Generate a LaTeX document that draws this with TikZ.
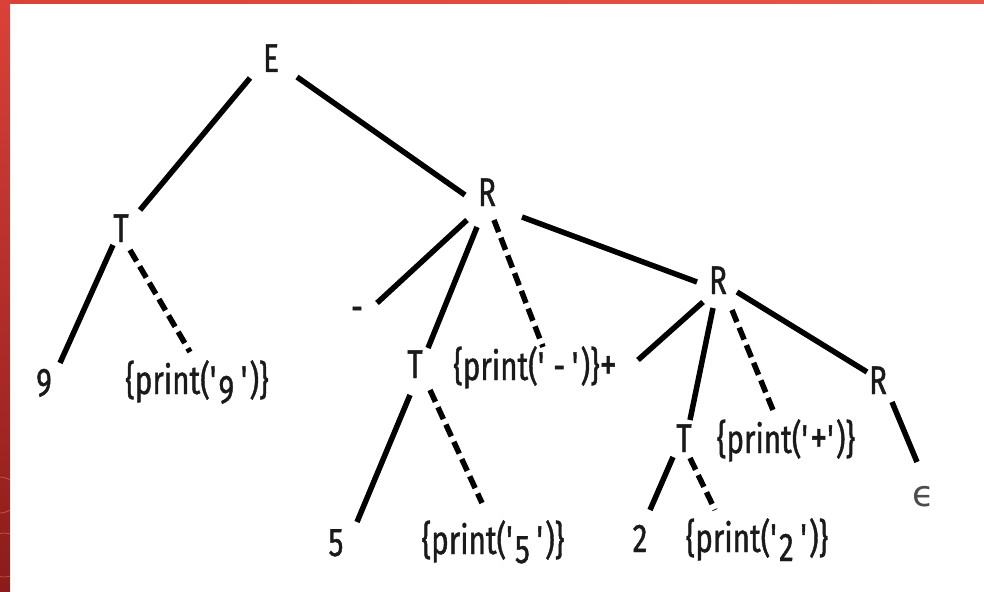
\documentclass[tikz,border=0pt]{standalone}
\usepackage{fontspec}
\setmainfont{Fira Sans}[FakeStretch=0.74,FakeBold=1]
\newfontfamily\epsfont{DejaVu Sans}
\usetikzlibrary{calc}
\definecolor{stripTop}{HTML}{DB4139}
\definecolor{stripBot}{HTML}{8C1B1B}
\definecolor{barR}{HTML}{E8564B}
\definecolor{ink}{HTML}{1A1A1A}
\definecolor{ringC}{HTML}{E07A45}
\newcommand\qt{\textquotesingle}
\newcommand\lowd[1]{\raisebox{-9pt}{#1}}
\begin{document}
\begin{tikzpicture}[x=1pt,y=-1pt,
  lbl/.style={inner sep=0pt, anchor=base, text=ink, font=\fontsize{40}{44}\selectfont},
  edge/.style={line width=5.5pt, black},
  dedge/.style={edge, dash pattern=on 13pt off 6pt}]
\useasboundingbox (0,0) rectangle (984,591);
\fill[white] (0,0) rectangle (984,591);
% red frame
\shade[top color=stripTop, bottom color=stripBot] (0,0) rectangle (10,591);
\shade[left color=stripTop, right color=barR] (0,0) rectangle (984,4);
\begin{scope}
\clip (0,0) rectangle (10,591);
\draw[ringC, opacity=0.6, line width=0.8pt] (0,495) circle (18);
\draw[ringC, opacity=0.6, line width=0.8pt] (4,555) circle (22);
\end{scope}
% nodes
\node[lbl] (E) at (271,72) {E};
\node[lbl] (T1) at (121,242) {T};
\node[lbl] (R1) at (487,206) {R};
\node[lbl] (R2) at (718,294) {R};
\node[lbl] (R3) at (878,394) {R};
\node[lbl] (nine) at (44,396) {9};
\node[lbl] (p9) at (197,394) {\{print(\qt\lowd{9}\,\qt)\}};
\node[lbl] (minus) at (357,321) {-};
\node[lbl] (T2) at (415,378) {T};
\node[lbl] (pm) at (535,380) {\{print(\qt\,-\,\qt)\}{\fontsize{46}{46}\selectfont+}};
\node[lbl] (T3) at (684,452) {T};
\node[lbl] (pp) at (786,453) {\{print(\qt{\fontsize{46}{46}\selectfont+}\qt)\}};
\node[inner sep=0pt, text=black!70, font=\epsfont\fontsize{36}{38}\selectfont] (eps) at (924,497) {ϵ};
\node[lbl] (five) at (336,556) {5};
\node[lbl] (p5) at (493,554) {\{print(\qt\lowd{5}\,\qt)\}};
\node[lbl] (two) at (640,552) {2};
\node[lbl] (p2) at (757,552) {\{print(\qt\lowd{2}\,\qt)\}};
% edges
\draw[edge] ($(E.base)+(-21,6)$) -- ($(T1.base)+(19,-32)$);
\draw[edge] ($(E.base)+(26,5)$) -- ($(R1.base)+(-22,-11)$);
\draw[edge] ($(T1.base)+(-8,3)$) -- ($(nine.base)+(16,-33)$);
\draw[dedge] ($(T1.base)+(9,8)$) -- ($(p9.base)+(-7,-42)$);
\draw[edge] ($(R1.base)+(-20,14)$) -- ($(minus.base)+(20,-18)$);
\draw[edge] ($(R1.base)+(-10,21)$) -- ($(T2.base)+(13,-30)$);
\draw[dedge] ($(R1.base)+(7,14)$) -- ($(pm.base)+(8,-33)$);
\draw[edge] ($(R1.base)+(35,11)$) -- ($(R2.base)+(-21,-12)$);
\draw[edge] ($(R2.base)+(-15,8)$) -- ($(pm.base)+(103,-20)$);
\draw[edge] ($(R2.base)+(-5,14)$) -- ($(T3.base)+(6,-32)$);
\draw[dedge] ($(R2.base)+(14,16)$) -- ($(pp.base)+(-11,-38)$);
\draw[edge] ($(R2.base)+(19,-2)$) -- ($(R3.base)+(-11,-22)$);
\draw[edge] ($(R3.base)+(14,8)$) -- ($(eps.center)+(-7,-35)$);
\draw[edge] ($(T2.base)+(-5,17)$) -- ($(five.base)+(21,-34)$);
\draw[dedge] ($(T2.base)+(15,12)$) -- ($(p5.base)+(-11,-51)$);
\draw[edge] ($(T3.base)+(-11,5)$) -- ($(two.base)+(10,-42)$);
\draw[dedge] ($(T3.base)+(6,6)$) -- ($(p2.base)+(-42,-42)$);
\end{tikzpicture}
\end{document}
